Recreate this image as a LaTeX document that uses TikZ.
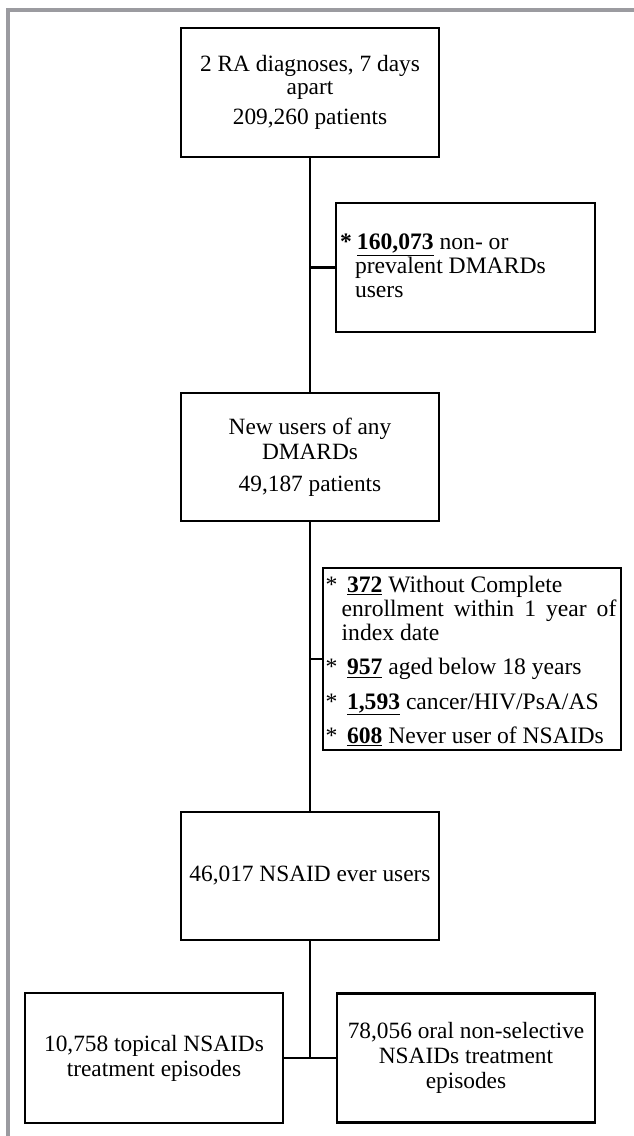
\documentclass[tikz,border=0pt]{standalone}
\usepackage{fontspec}
\setmainfont{Liberation Serif}
\definecolor{framegray}{RGB}{155,155,160}
\newcommand{\unum}[1]{\underline{\textbf{#1}}}
\begin{document}
\begin{tikzpicture}[x=0.75pt,y=-0.75pt,
  box/.style={draw=black, line width=2.2pt, rectangle, inner sep=0pt,
    font=\fontsize{17.5}{18.75}\selectfont, align=center},
  listbox/.style={draw=black, line width=2.2pt, rectangle, inner ysep=0pt,
    font=\fontsize{17.7}{18}\selectfont},
  conn/.style={draw=black, line width=2.2pt},
  frame/.style={draw=framegray, line width=2.6pt}]
\useasboundingbox (0,0) rectangle (634,1136);
\draw[frame] (8,1140) -- (8,10) -- (640,10);

\node[box, minimum width=193.5pt, minimum height=96.75pt,
  font=\fontsize{17.5}{17.5}\selectfont] (n1) at (310,92.5)
  {2 RA diagnoses, 7 days\\apart\\[5.25pt]209,260 patients};
\node[listbox, minimum width=194.25pt, minimum height=96.75pt, inner xsep=3pt] (n2) at (465.5,267.5)
  {\raisebox{-11pt}{\smash{\makebox[188.25pt][l]{%
   \begin{tabular}{@{}p{11.25pt}@{}l@{}}
   \textbf{*}&\hspace{1.5pt}\unum{160,073} non- or\\
   &prevalent DMARDs\\
   &users
   \end{tabular}}}}};
\node[box, minimum width=193.5pt, minimum height=96pt] (n3) at (310,457)
  {New users of any\\DMARDs\\[5pt]49,187 patients};
\node[listbox, minimum width=223.5pt, minimum height=136.5pt, inner xsep=2pt] (n4) at (472,659)
  {\raisebox{-15pt}{\smash{\makebox[219.5pt][l]{%
   \begin{tabular}{@{}p{12pt}@{}l@{}}
   *&\hspace{4pt}\unum{372} Without Complete\\
   &\makebox[206pt][s]{enrollment within 1 year of}\\
   &index date\\[7.75pt]
   *&\hspace{4pt}\unum{957} aged below 18 years\\[7.75pt]
   *&\hspace{4pt}\unum{1,593} cancer/HIV/PsA/AS\\[7.75pt]
   *&\hspace{4pt}\unum{608} Never user of NSAIDs
   \end{tabular}}}}};
\node[box, minimum width=193.5pt, minimum height=96pt] (n5) at (310,876)
  {46,017 NSAID ever users};
\node[box, minimum width=193.5pt, minimum height=97.5pt] (n6) at (154,1058)
  {10,758 topical NSAIDs\\treatment episodes};
\node[box, minimum width=193.5pt, minimum height=96.75pt] (n7) at (466,1058)
  {78,056 oral non-selective\\NSAIDs treatment\\episodes};

\draw[conn] (n1.south) -- (n3.north);
\draw[conn] (n1.south |- n2.west) -- (n2.west);
\draw[conn] (n3.south) -- (n5.north);
\draw[conn] (n3.south |- n4.west) -- (n4.west);
\draw[conn] (n5.south) -- (n5.south |- n6.east);
\draw[conn] (n6.east) -- (n7.west);
\end{tikzpicture}
\end{document}
